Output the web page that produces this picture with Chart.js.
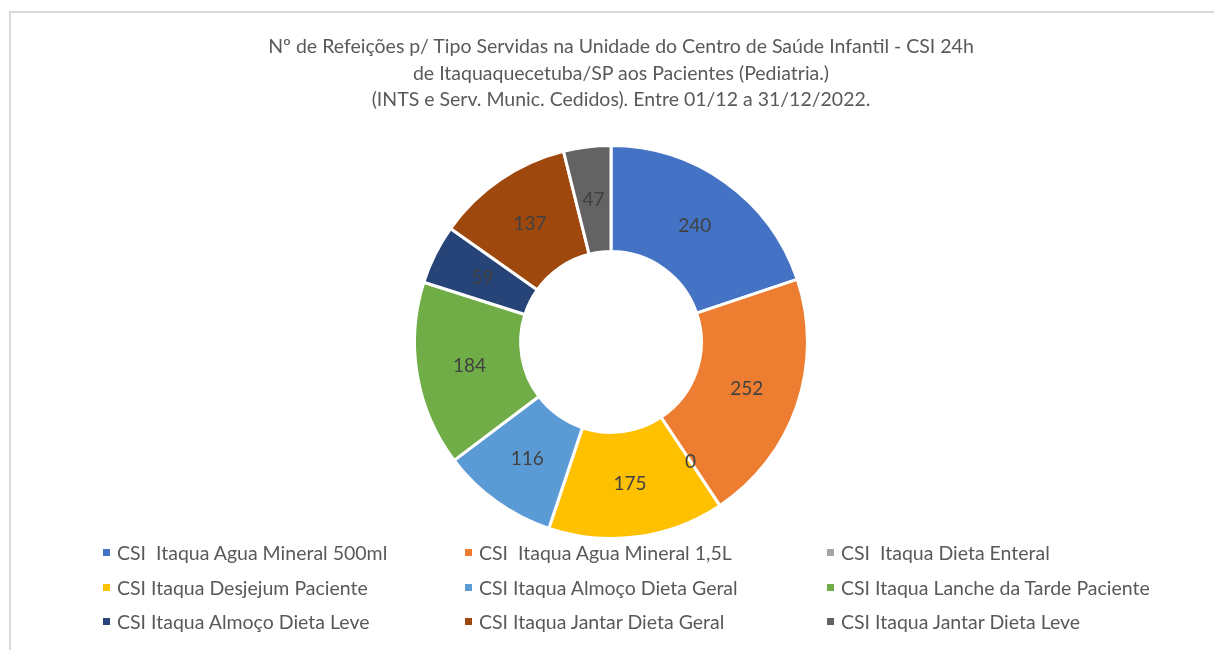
<!DOCTYPE html>
<html>
<head>
    <meta charset="UTF-8">
    <title>CSI 24h Itaquaquecetuba - Refeições</title>
    <script src="https://cdn.jsdelivr.net/npm/chart.js"></script>
    <style>
        html, body { margin: 0; padding: 0; background: #fff; }
        body { width: 1214px; height: 650px; position: relative; overflow: hidden; font-family: Lato, "Open Sans", sans-serif; }
        .frame { position: absolute; left: 9px; top: 11px; width: 1300px; height: 700px; border: 2px solid #d9d9d9; box-sizing: border-box; }
        .chart-box { position: absolute; left: 0; top: 0; width: 1214px; height: 650px; }
        .titulo { position: absolute; left: 0; top: 33px; width: 1242px; text-align: center; font-size: 19.5px; line-height: 26.5px; color: #595959; }
        .legenda { position: absolute; left: 0; top: 0; }
        .legenda .item { position: absolute; font-size: 19.5px; color: #595959; white-space: pre; line-height: 22px; }
        .legenda .item span { display: inline-block; width: 7px; height: 7px; margin-right: 7px; vertical-align: 4px; }
    </style>
</head>
<body>
    <div class="frame"></div>
    <div class="chart-box"><canvas id="refeicoesChart" width="1214" height="650"></canvas></div>
    <div class="titulo" id="titulo"></div>
    <div class="legenda" id="legenda"></div>
    <script>
        // dados
        const categorias = [
            'CSI  Itaqua Agua Mineral 500ml',
            'CSI  Itaqua Agua Mineral 1,5L',
            'CSI  Itaqua Dieta Enteral',
            'CSI Itaqua Desjejum Paciente',
            'CSI Itaqua Almoço Dieta Geral',
            'CSI Itaqua Lanche da Tarde Paciente',
            'CSI Itaqua Almoço Dieta Leve',
            'CSI Itaqua Jantar Dieta Geral',
            'CSI Itaqua Jantar Dieta Leve'
        ];
        const quantidades = [240, 252, 0, 175, 116, 184, 59, 137, 47];
        const cores = ['#4472C4', '#ED7D31', '#A5A5A5', '#FFC000', '#5B9BD5', '#70AD47', '#264478', '#9E480E', '#636363'];
        const titulo = [
            'Nº de Refeições p/ Tipo Servidas na Unidade do Centro de Saúde Infantil - CSI 24h',
            'de Itaquaquecetuba/SP aos Pacientes (Pediatria.)',
            '(INTS e Serv. Munic. Cedidos). Entre 01/12 a 31/12/2022.'
        ];

        document.getElementById('titulo').innerHTML = titulo.join('<br>');

        // rotulos de valor no meio de cada fatia
        const rotulosValor = {
            id: 'rotulosValor',
            afterDatasetsDraw(chart) {
                const ctx = chart.ctx;
                const meta = chart.getDatasetMeta(0);
                ctx.save();
                ctx.font = '19px Lato, "Open Sans", sans-serif';
                ctx.fillStyle = '#404040';
                ctx.textAlign = 'center';
                ctx.textBaseline = 'middle';
                meta.data.forEach(function (arc, i) {
                    const p = arc.tooltipPosition();
                    ctx.fillText(String(quantidades[i]), p.x, p.y);
                });
                ctx.restore();
            }
        };

        const ctx = document.getElementById('refeicoesChart').getContext('2d');
        const refeicoesChart = new Chart(ctx, {
            type: 'doughnut',
            data: {
                labels: categorias,
                datasets: [{
                    data: quantidades,
                    backgroundColor: cores,
                    borderColor: '#ffffff',
                    borderWidth: 3
                }]
            },
            options: {
                responsive: false,
                animation: false,
                cutout: '46%',
                layout: { padding: { left: 8, right: 0, top: 144, bottom: 110 } },
                plugins: {
                    legend: { display: false },
                    tooltip: { enabled: false },
                    title: { display: false }
                }
            },
            plugins: [rotulosValor]
        });

        // legenda em 3 colunas como no Excel
        const colX = [103, 465, 827];
        const linhaY = [542, 577, 611];
        const legenda = document.getElementById('legenda');
        categorias.forEach(function (nome, i) {
            const div = document.createElement('div');
            div.className = 'item';
            div.style.left = colX[i % 3] + 'px';
            div.style.top = linhaY[Math.floor(i / 3)] + 'px';
            div.innerHTML = '<span style="background:' + cores[i] + '"></span>' + nome;
            legenda.appendChild(div);
        });
    </script>
</body>
</html>
